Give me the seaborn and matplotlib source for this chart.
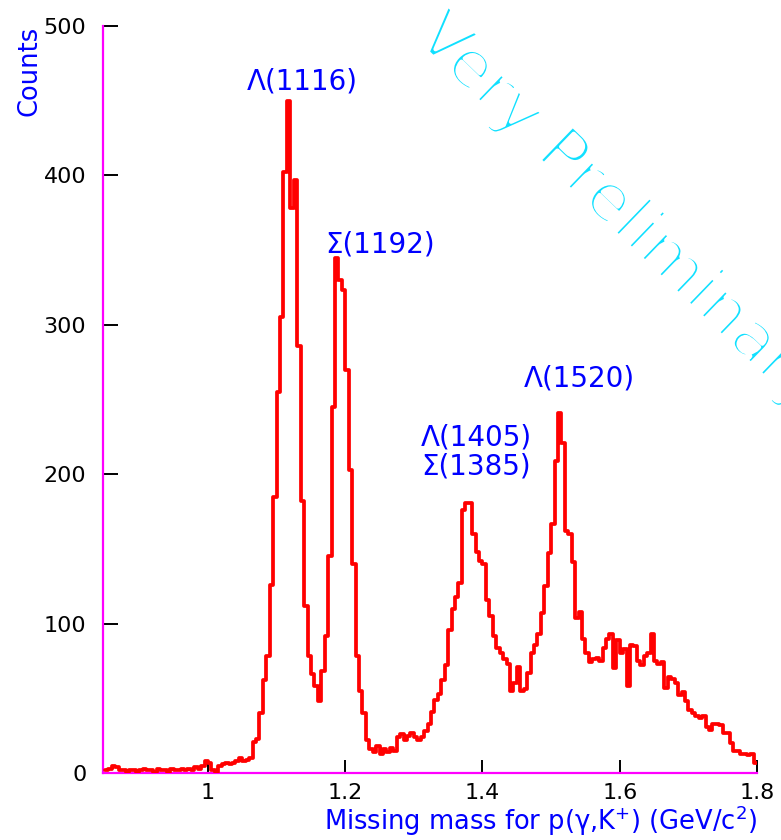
import numpy as np
import pandas as pd
import matplotlib
matplotlib.use("Agg")
import matplotlib.pyplot as plt
import matplotlib.patheffects as pe
import seaborn as sns

# Missing-mass histogram for p(gamma, K+) X, 5 MeV bins from 0.85 to 1.80 GeV/c^2
mass_low = 0.85
mass_high = 1.80
counts = [
    2, 3, 5, 4, 2, 2, 1, 2, 2, 1,            # 0.850 - 0.895
    2, 3, 2, 2, 1, 3, 2, 2, 1, 3,            # 0.900 - 0.945
    2, 2, 3, 2, 3, 2, 4, 3, 5, 8,            # 0.950 - 0.995
    7, 2, 1, 5, 6, 7, 6, 7, 8, 10,           # 1.000 - 1.045
    8, 9, 10, 21, 23, 40, 62, 78, 126, 185,  # 1.050 - 1.095
    255, 305, 402, 450, 378, 397, 286, 182, 112, 78,   # 1.100 - 1.145
    66, 58, 48, 68, 92, 145, 245, 345, 330, 323,       # 1.150 - 1.195
    270, 203, 140, 78, 55, 40, 22, 16, 14, 18,         # 1.200 - 1.245
    13, 16, 14, 17, 15, 24, 26, 22, 25, 27,            # 1.250 - 1.295
    24, 22, 24, 28, 33, 41, 49, 53, 62, 72,            # 1.300 - 1.345
    96, 110, 118, 127, 176, 181, 181, 160, 148, 142,   # 1.350 - 1.395
    140, 116, 105, 92, 84, 80, 76, 73, 55, 60,         # 1.400 - 1.445
    71, 55, 56, 67, 80, 86, 93, 107, 125, 147,         # 1.450 - 1.495
    167, 209, 241, 221, 162, 160, 141, 104, 108, 90,   # 1.500 - 1.545
    80, 74, 76, 77, 75, 84, 90, 93, 70, 89,            # 1.550 - 1.595
    80, 83, 58, 86, 85, 75, 72, 78, 80, 93,            # 1.600 - 1.645
    75, 73, 74, 57, 64, 63, 60, 52, 54, 48,            # 1.650 - 1.695
    42, 40, 38, 37, 38, 31, 29, 33, 33, 32,            # 1.700 - 1.745
    27, 27, 20, 15, 15, 13, 13, 12, 13, 7,             # 1.750 - 1.795
]

x_ticks = [1.0, 1.2, 1.4, 1.6, 1.8]
x_tick_labels = ["1", "1.2", "1.4", "1.6", "1.8"]
y_ticks = [0, 100, 200, 300, 400, 500]
y_tick_labels = ["0", "100", "200", "300", "400", "500"]

peak_labels = ["\u039b(1116)", "\u03a3(1192)", "\u039b(1520)", "\u039b(1405)\n\u03a3(1385)"]
peak_label_x = [1.137, 1.251, 1.541, 1.391]
peak_label_y = [463, 354, 264, 215]

edges = np.linspace(mass_low, mass_high, len(counts) + 1)
centers = 0.5 * (edges[:-1] + edges[1:])
hist_df = pd.DataFrame({"mass": centers, "counts": counts})

sns.set_theme(style="white")
plt.rcParams["font.family"] = ["DejaVu Sans"]

fig = plt.figure(figsize=(7.81, 8.40), dpi=100)
ax = fig.add_axes([103 / 781, 67 / 840, 654 / 781, 747 / 840])

sns.histplot(data=hist_df, x="mass", weights="counts", bins=edges.tolist(),
             element="step", fill=False, color="#ff0000", linewidth=2.7, ax=ax,
             zorder=4)

ax.set_xlim(0.847, 1.80)
ax.set_ylim(0, 500)

for side in ("top", "right"):
    ax.spines[side].set_visible(False)
for side in ("left", "bottom"):
    ax.spines[side].set_color("#ff00ff")
    ax.spines[side].set_linewidth(1.6)
    ax.spines[side].set_zorder(1)

ax.set_xticks(x_ticks)
ax.set_xticklabels(x_tick_labels)
ax.set_yticks(y_ticks)
ax.set_yticklabels(y_tick_labels)
ax.tick_params(axis="y", direction="in", length=11, width=1.4, color="black",
               labelsize=16, labelcolor="black", pad=12, left=True)
ax.tick_params(axis="x", direction="in", length=9.5, width=1.4, color="black",
               labelsize=16, labelcolor="black", pad=7, bottom=True)
ax.grid(False)

ax.set_xlabel("Missing mass for p(\u03b3,K$^{+}$) (GeV/c$^{2}$)", color="#0000ff",
              fontsize=18.5, loc="right")
ax.xaxis.set_label_coords(1.0, -0.041)
ax.set_ylabel("Counts", color="#0000ff", fontsize=18.5, loc="top")
ax.yaxis.set_label_coords(-0.093, 1.0)

for txt, lx, ly in zip(peak_labels, peak_label_x, peak_label_y):
    ax.text(lx, ly, txt, color="#0000ff", fontsize=20, ha="center", va="center",
            linespacing=1.05)

# thin diagonal watermark running off the right edge; a white outline
# stroke thins the glyphs down to hairlines
fig.text(414 / 781, 1 - 39 / 840, "Very Preliminary", color="#10e0ff",
         fontsize=47.5, rotation=-44, rotation_mode="anchor",
         ha="left", va="baseline", zorder=0,
         path_effects=[pe.Stroke(linewidth=3.1, foreground="white")])

fig.savefig("out.png", dpi=100, facecolor="white")
